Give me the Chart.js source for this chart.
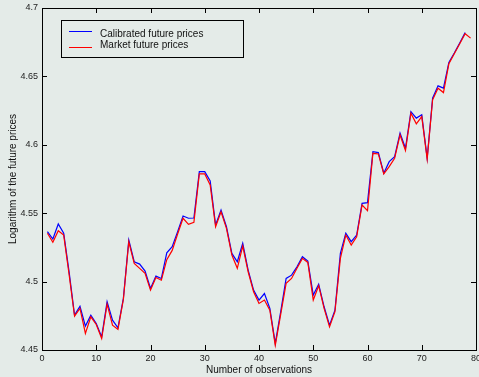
<!DOCTYPE html>
<html lang="en">
<head>
<meta charset="UTF-8">
<title>Future prices</title>
<script src="https://cdn.jsdelivr.net/npm/chart.js"></script>
<style>
  html, body { margin: 0; padding: 0; background: #e4ebe8; }
</style>
</head>
<body>
<canvas id="myChart" width="479" height="377"></canvas>
<script>
// observation index 1..79
const obs = Array.from({ length: 79 }, (_, i) => i + 1);

// log of calibrated future prices
const calibrated = [
  4.5365, 4.5311, 4.5421, 4.5353, 4.5070, 4.4755, 4.4820, 4.4675, 4.4755, 4.4694,
  4.4596, 4.4852, 4.4718, 4.4662, 4.4877, 4.5304, 4.5145, 4.5128, 4.5077, 4.4950,
  4.5040, 4.5023, 4.5210, 4.5255, 4.5365, 4.5480, 4.5463, 4.5465, 4.5804, 4.5804,
  4.5736, 4.5414, 4.5523, 4.5401, 4.5206, 4.5145, 4.5280, 4.5084, 4.4938, 4.4865,
  4.4913, 4.4804, 4.4548, 4.4780, 4.5023, 4.5047, 4.5108, 4.5182, 4.5150, 4.4901,
  4.4980, 4.4816, 4.4682, 4.4791, 4.5206, 4.5353, 4.5292, 4.5340, 4.5572, 4.5577,
  4.5950, 4.5943, 4.5792, 4.5877, 4.5914, 4.6085, 4.5975, 4.6243, 4.6195, 4.6219,
  4.5902, 4.6341, 4.6431, 4.6414, 4.6602, 4.6671, 4.6744, 4.6821, null
];

// log of market future prices
const market = [
  4.5353, 4.5287, 4.5372, 4.5340, 4.5050, 4.4747, 4.4804, 4.4621, 4.4742, 4.4687,
  4.4584, 4.4835, 4.4682, 4.4650, 4.4870, 4.5291, 4.5133, 4.5097, 4.5060, 4.4938,
  4.5030, 4.5010, 4.5160, 4.5228, 4.5348, 4.5463, 4.5419, 4.5433, 4.5787, 4.5787,
  4.5707, 4.5401, 4.5510, 4.5389, 4.5194, 4.5097, 4.5260, 4.5072, 4.4926, 4.4840,
  4.4865, 4.4791, 4.4535, 4.4760, 4.4987, 4.5023, 4.5097, 4.5170, 4.5140, 4.4865,
  4.4970, 4.4804, 4.4669, 4.4780, 4.5170, 4.5340, 4.5267, 4.5328, 4.5560, 4.5518,
  4.5938, 4.5933, 4.5787, 4.5840, 4.5902, 4.6072, 4.5958, 4.6231, 4.6153, 4.6206,
  4.5895, 4.6329, 4.6414, 4.6382, 4.6592, 4.6665, 4.6739, 4.6812, 4.6780
];

const xTicks = [0, 10, 20, 30, 40, 50, 60, 70, 80];
const yTicks = [4.45, 4.5, 4.55, 4.6, 4.65, 4.7];

const seriesNames = ['Calibrated future prices', 'Market future prices'];
const seriesColors = ['#0000ff', '#ff0000'];

const toPoints = arr => obs.map((x, i) => ({ x: x, y: arr[i] }));

const FONT = 'Liberation Sans, Arial, sans-serif';
const BG = '#e4ebe8';

// box around the plot, inward ticks on all sides, legend box
const framePlugin = {
  id: 'frame',
  beforeDraw(chart) {
    const ctx = chart.ctx;
    ctx.save();
    ctx.fillStyle = BG;
    ctx.fillRect(0, 0, chart.width, chart.height);
    ctx.restore();
  },
  afterDraw(chart) {
    const ctx = chart.ctx;
    const a = chart.chartArea;
    const xs = chart.scales.x, ys = chart.scales.y;
    const tl = 5;
    ctx.save();
    ctx.strokeStyle = '#000';
    ctx.lineWidth = 1;
    ctx.strokeRect(Math.round(a.left) + 0.5, Math.round(a.top) + 0.5,
      Math.round(a.right - a.left), Math.round(a.bottom - a.top));
    ctx.beginPath();
    xTicks.forEach(v => {
      const px = Math.round(xs.getPixelForValue(v)) + 0.5;
      ctx.moveTo(px, a.bottom); ctx.lineTo(px, a.bottom - tl);
      ctx.moveTo(px, a.top); ctx.lineTo(px, a.top + tl);
    });
    yTicks.forEach(v => {
      const py = Math.round(ys.getPixelForValue(v)) + 0.5;
      ctx.moveTo(a.left, py); ctx.lineTo(a.left + tl, py);
      ctx.moveTo(a.right, py); ctx.lineTo(a.right - tl, py);
    });
    ctx.stroke();

    // legend
    const lx = 61.5, ly = 20.5, lw = 182, lh = 37;
    ctx.fillStyle = BG;
    ctx.fillRect(lx, ly, lw, lh);
    ctx.strokeRect(lx, ly, lw, lh);
    const rows = [31.5, 47.5];
    const textY = [34, 45];
    ctx.font = '10px ' + FONT;
    ctx.textBaseline = 'middle';
    ctx.textAlign = 'left';
    seriesNames.forEach((name, i) => {
      ctx.strokeStyle = seriesColors[i];
      ctx.beginPath();
      ctx.moveTo(69, rows[i]);
      ctx.lineTo(92, rows[i]);
      ctx.stroke();
      ctx.fillStyle = '#111';
      ctx.fillText(name, 100, textY[i]);
    });
    ctx.restore();
  }
};

const config = {
  type: 'line',
  data: {
    datasets: [
      {
        label: seriesNames[1],
        data: toPoints(market),
        borderColor: seriesColors[1],
        borderWidth: 1.2,
        pointRadius: 0,
        tension: 0,
        fill: false
      },
      {
        label: seriesNames[0],
        data: toPoints(calibrated),
        borderColor: seriesColors[0],
        borderWidth: 1.2,
        pointRadius: 0,
        tension: 0,
        fill: false,
        spanGaps: false
      }
    ]
  },
  options: {
    responsive: false,
    devicePixelRatio: 1,
    animation: false,
    layout: { padding: { top: 8, right: 3, left: 0, bottom: 0 } },
    plugins: {
      legend: { display: false },
      tooltip: { enabled: false }
    },
    scales: {
      x: {
        type: 'linear',
        min: 0,
        max: 80,
        grid: { display: false, drawTicks: false, tickLength: 0 },
        border: { display: false },
        afterBuildTicks: s => { s.ticks = xTicks.map(v => ({ value: v })); },
        afterFit: s => { s.height = 27; s.paddingLeft = 0; s.paddingRight = 0; },
        ticks: {
          color: '#222',
          font: { family: FONT, size: 9 },
          padding: 3,
          maxRotation: 0,
          callback: v => String(v)
        },
        title: {
          display: true,
          text: 'Number of observations',
          color: '#111',
          font: { family: FONT, size: 10 },
          padding: { top: 0, bottom: 1 }
        }
      },
      y: {
        type: 'linear',
        min: 4.45,
        max: 4.7,
        grid: { display: false, drawTicks: false, tickLength: 0 },
        border: { display: false },
        afterBuildTicks: s => { s.ticks = yTicks.map(v => ({ value: v })); },
        afterFit: s => { s.width = 42; s.paddingTop = 0; s.paddingBottom = 0; },
        ticks: {
          color: '#222',
          font: { family: FONT, size: 9 },
          padding: 4,
          callback: v => String(parseFloat(v.toFixed(2)))
        },
        title: {
          display: true,
          text: 'Logarithm of the future prices',
          color: '#111',
          font: { family: FONT, size: 10 },
          padding: { top: 7, bottom: 0 }
        }
      }
    }
  },
  plugins: [framePlugin]
};

const ctx = document.getElementById('myChart').getContext('2d');
const myChart = new Chart(ctx, config);
</script>
</body>
</html>
